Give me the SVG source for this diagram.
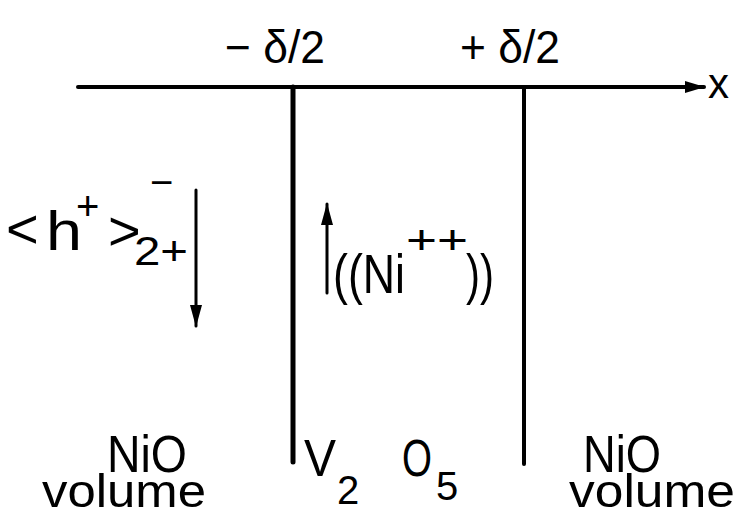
<svg xmlns="http://www.w3.org/2000/svg" width="739" height="516" viewBox="0 0 739 516">
<defs>
<marker id="ah" viewBox="0 0 20 12" refX="19" refY="6" markerWidth="20" markerHeight="12" markerUnits="userSpaceOnUse" orient="auto">
<path d="M0,0 L20,6 L0,12 Z" fill="#000"/>
</marker>
<marker id="ahs" viewBox="0 0 22 12" refX="21" refY="6" markerWidth="22" markerHeight="12" markerUnits="userSpaceOnUse" orient="auto">
<path d="M0,0 L22,6 L0,12 Z" fill="#000"/>
</marker>
<style>
text{font-family:"Liberation Sans","DejaVu Sans",sans-serif;fill:#000}
.big{font-size:56px}
.lab{font-size:52px}
.vol{font-size:46px}
.top{font-size:46px}
.sup{font-size:40px}
.ln{stroke:#000;fill:none;stroke-linecap:round}
</style>
</defs>
<rect width="739" height="516" fill="#fff"/>
<g id="connectors">
<line class="ln" x1="78" y1="87" x2="704" y2="87" stroke-width="4" marker-end="url(#ah)"/>
<line class="ln" x1="293" y1="87" x2="293" y2="462" stroke-width="5"/>
<line class="ln" x1="524" y1="87" x2="524" y2="464" stroke-width="4"/>
<line class="ln" x1="196" y1="190" x2="196" y2="326" stroke-width="3" marker-end="url(#ahs)"/>
<line class="ln" x1="327" y1="293" x2="327" y2="204" stroke-width="3" marker-end="url(#ahs)"/>
</g>
<g id="axis-labels">
<text class="top" x="225" y="63" textLength="100" lengthAdjust="spacingAndGlyphs">− δ/2</text>
<text class="top" x="460" y="63" textLength="100" lengthAdjust="spacingAndGlyphs">+ δ/2</text>
<text x="708" y="98" font-size="42">x</text>
</g>
<g id="holes">
<text class="big" x="6" y="248">&lt;</text>
<text class="big" x="46" y="250" textLength="36" lengthAdjust="spacingAndGlyphs">h</text>
<text class="sup" x="76" y="220">+</text>
<text class="big" x="108" y="250">&gt;</text>
<text class="sup" x="150" y="196">−</text>
<text class="sup" x="134" y="265" textLength="54" lengthAdjust="spacingAndGlyphs">2+</text>
</g>
<g id="nickel">
<text class="big" x="333" y="293" textLength="72" lengthAdjust="spacingAndGlyphs">((Ni</text>
<text class="sup" x="406" y="254" textLength="62" lengthAdjust="spacingAndGlyphs">++</text>
<text class="big" x="466" y="293" textLength="28" lengthAdjust="spacingAndGlyphs">))</text>
</g>
<g id="nio-left">
<text class="lab" x="107" y="472" textLength="80" lengthAdjust="spacingAndGlyphs">NiO</text>
<text class="vol" x="42" y="507" textLength="164" lengthAdjust="spacingAndGlyphs">volume</text>
</g>
<g id="v2o5">
<text class="lab" x="304" y="476" textLength="32" lengthAdjust="spacingAndGlyphs">V</text>
<text class="sup" x="337" y="504">2</text>
<text class="lab" x="402" y="476" textLength="30" lengthAdjust="spacingAndGlyphs">O</text>
<text class="sup" x="436" y="500">5</text>
</g>
<g id="nio-right">
<text class="lab" x="583" y="472" textLength="78" lengthAdjust="spacingAndGlyphs">NiO</text>
<text class="vol" x="569" y="507" textLength="166" lengthAdjust="spacingAndGlyphs">volume</text>
</g>
</svg>
